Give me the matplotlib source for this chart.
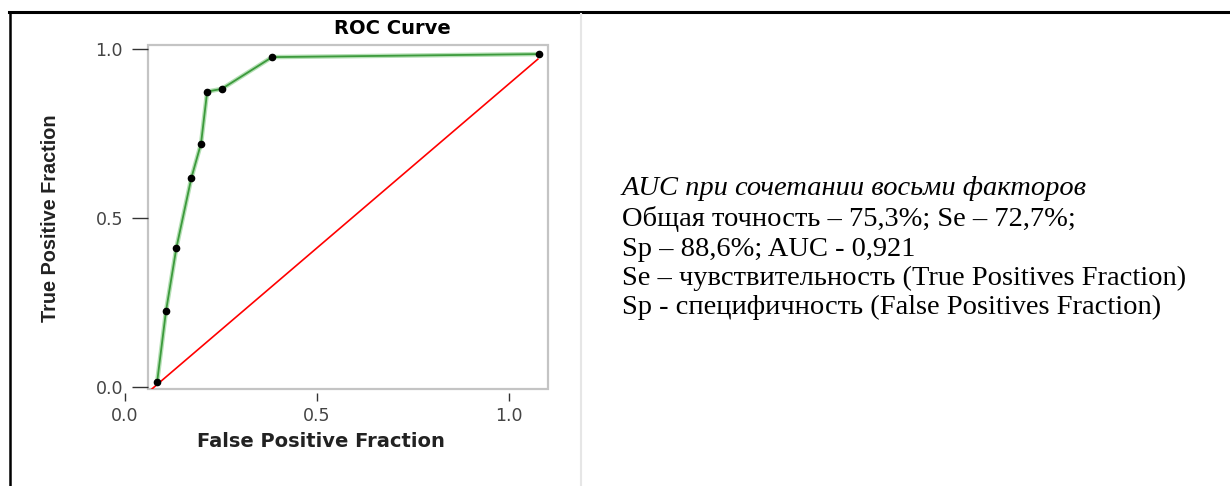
import numpy as np
import matplotlib
matplotlib.use("Agg")
import matplotlib.pyplot as plt
from matplotlib.patches import Rectangle
import matplotlib.transforms as mtransforms

# ROC points
fpr = [0.085, 0.108, 0.135, 0.174, 0.199, 0.215, 0.253, 0.384, 1.079]
tpr = [0.016, 0.225, 0.412, 0.619, 0.720, 0.874, 0.882, 0.976, 0.985]

# reference (chance) line as drawn
ref_x = [0.068, 1.075]
ref_y = [-0.009, 0.970]

x_ticks = [0.0, 0.5, 1.0]
y_ticks = [0.0, 0.5, 1.0]
tick_labels = ["0.0", "0.5", "1.0"]

notes = [
    "AUC при сочетании восьми факторов",
    "Общая точность – 75,3%; Se – 72,7%;",
    "Sp – 88,6%; AUC - 0,921",
    "Se – чувствительность (True Positives Fraction)",
    "Sp - специфичность (False Positives Fraction)",
]
notes_y = [188, 219, 249, 278, 307]  # pixel rows of the lines

W, H = 1230, 486
fig = plt.figure(figsize=(W / 100, H / 100), dpi=100)

# axes placed in pixel terms
left, right, top, bottom = 124.5, 548, 45, 389
ax = fig.add_axes([left / W, 1 - bottom / H, (right - left) / W, (bottom - top) / H])
ax.set_xlim(0, (right - left) / 384.5)
ax.set_ylim((387 - bottom) / 338, (387 - top) / 338)

ax.plot(fpr, tpr, color="#b5e0b5", lw=3.2, solid_capstyle="round", zorder=2)
ax.plot(fpr, tpr, color="#3c9a3c", lw=1.3, zorder=3)
ax.plot(fpr, tpr, "o", color="black", ms=4.5, zorder=4)
ax.plot(ref_x, ref_y, color="#ff0000", lw=1.2, zorder=3)

# light grey plot frame (starts right of x = 0)
frame_x0 = (148 - left) / 384.5
trans = mtransforms.blended_transform_factory(ax.transData, ax.transAxes)
ax.add_patch(Rectangle((frame_x0, 0), ax.get_xlim()[1] - frame_x0, 1, transform=trans,
                       fill=False, edgecolor="#c4c4c4", lw=1.6, clip_on=False, zorder=1))

for s in ax.spines.values():
    s.set_visible(False)
ax.spines["left"].set_position(("data", frame_x0))
ax.spines["bottom"].set_position(("outward", 3))

ax.set_xticks(x_ticks)
ax.set_xticklabels(tick_labels)
ax.set_yticks(y_ticks)
ax.set_yticklabels(tick_labels)
ax.tick_params(axis="y", length=11.5, width=1, color="#333333", pad=6.5,
               labelsize=12.5, labelcolor="#444444")
ax.tick_params(axis="x", length=6, width=1, color="#333333", pad=4,
               labelsize=12.5, labelcolor="#444444")

# titles and axis names
fig.text(392 / W, 1 - 28 / H, "ROC Curve", ha="center", va="center",
         family="DejaVu Sans", weight="bold", fontsize=14)
fig.text(321 / W, 1 - 441 / H, "False Positive Fraction", ha="center", va="center",
         family="DejaVu Sans", weight="bold", fontsize=14, color="#222222")
fig.text(51 / W, 1 - 218 / H, "True Positive Fraction", ha="center", va="center",
         rotation=90, family="Liberation Sans", weight="bold", fontsize=14.3, color="#222222")

# table borders
fig.add_artist(plt.Line2D([9 / W, 1], [1 - 12.5 / H] * 2, color="black", lw=2.2))
fig.add_artist(plt.Line2D([10 / W] * 2, [0, 1 - 12.5 / H], color="black", lw=1.8))
fig.add_artist(plt.Line2D([581 / W] * 2, [0, 1 - 14 / H], color="#e6e6e6", lw=1.5))

# text on the right
for i, line in enumerate(notes):
    fig.text(622 / W, 1 - notes_y[i] / H, line, ha="left", va="center",
             family="Liberation Serif", fontsize=20.5,
             style="italic" if i == 0 else "normal")

fig.savefig("out.png", dpi=100)
